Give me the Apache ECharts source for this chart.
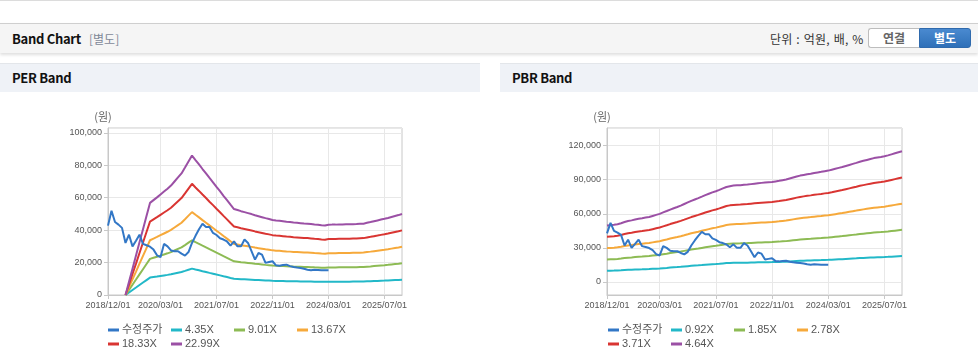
<!DOCTYPE html>
<html>
<head>
<meta charset="utf-8">
<script src="https://cdn.jsdelivr.net/npm/echarts@6/dist/echarts.min.js"></script>
<style>
  html, body { margin: 0; padding: 0; background: #fff; width: 978px; height: 361px; overflow: hidden; }
  body { position: relative; font-family: "Liberation Sans", "Noto Sans CJK KR", sans-serif; }
  .topline { position: absolute; left: 0; top: 0; width: 978px; height: 1px; background: #dcdcdc; }
  .hdr { position: absolute; left: 0; top: 23px; width: 978px; height: 29px; background: #f5f5f5;
         border-top: 1px solid #cfcfcf; box-shadow: 0 2px 3px rgba(0,0,0,0.13); }
  .hdr .title { position: absolute; left: 12px; top: 7px; font-size: 13px; font-weight: bold; color: #111;
                font-family: "Noto Sans CJK KR", "Liberation Sans", sans-serif; line-height: 16px; letter-spacing: -0.3px; }
  .hdr .sub { position: absolute; left: 89px; top: 7px; font-size: 12px; color: #7f8998; line-height: 16px;
              font-family: "Noto Sans CJK KR", sans-serif; }
  .hdr .unit { position: absolute; left: 770px; top: 7px; font-size: 12px; color: #333; line-height: 16px;
               font-family: "Noto Sans CJK KR", sans-serif; letter-spacing: 0.2px; word-spacing: 1px; }
  .btn { position: absolute; top: 4px; height: 18px; font-size: 12px; font-weight: bold; line-height: 18px;
         text-align: center; font-family: "Noto Sans CJK KR", sans-serif; }
  .btn1 { left: 868px; width: 50px; background: #fff; border: 1px solid #bdbdbd; border-right: none;
          border-radius: 3px 0 0 3px; color: #666; }
  .btn2 { left: 919px; width: 50px; background: linear-gradient(#4a8ad0, #2f70b8); border: 1px solid #2f6aad;
          border-radius: 0 3px 3px 0; color: #fff; }
  .ph { position: absolute; top: 63px; height: 28px; background: #eff2f7; border-top: 1px solid #e3e6ea; }
  .ph span { position: absolute; left: 12px; top: 6px; font-size: 13px; font-weight: bold; color: #111;
             font-family: "Noto Sans CJK KR", "Liberation Sans", sans-serif; line-height: 16px; letter-spacing: -0.3px; }
  #per { position: absolute; left: 0; top: 92px; width: 480px; height: 269px; }
  #pbr { position: absolute; left: 500px; top: 92px; width: 478px; height: 269px; }
</style>
</head>
<body>
<div class="topline"></div>
<div class="hdr">
  <div class="title">Band Chart</div>
  <div class="sub">[별도]</div>
  <div class="unit">단위 : 억원, 배, %</div>
  <div class="btn btn1">연결</div>
  <div class="btn btn2">별도</div>
</div>
<div class="ph" style="left:0;width:480px;"><span>PER Band</span></div>
<div class="ph" style="left:500px;width:478px;"><span>PBR Band</span></div>
<div id="per"></div>
<div id="pbr"></div>
<script>
// ---------- data ----------
// monthly categories 2018/12 .. 2025/12
const startYear = 2018, startMonth = 12, monthCount = 85;
const categories = [];
for (let i = 0; i < monthCount; i++) {
  const m = (startMonth - 1 + i) % 12 + 1;
  const y = startYear + Math.floor((startMonth - 1 + i) / 12);
  categories.push(y + '/' + String(m).padStart(2, '0') + '/01');
}
const xTickLabels = ['2018/12/01', '2020/03/01', '2021/07/01', '2022/11/01', '2024/03/01', '2025/07/01'];

// adjusted share price (수정주가), monthly 2018/12 .. 2024/03
const price = [42800, 52000, 45000, 43400, 41400, 32100, 37200, 30000, 33500, 37200,
  31500, 30700, 29800, 28000, 24500, 23300, 31500, 30000, 27500, 27000,
  27000, 25500, 24300, 26500, 32100, 36500, 40500, 44000, 42000, 42000,
  38300, 37000, 35000, 34200, 33000, 30500, 33100, 30000, 30000, 34200,
  32100, 27000, 21800, 25900, 24900, 19800, 20300, 20800, 18300, 18100,
  18500, 18700, 17800, 17300, 16900, 16700, 16200, 15600, 15200, 15600,
  15400, 15200, 15200, 15200];

// PER band: EPS (won) per month, multipliers
const perMultipliers = [4.35, 9.01, 13.67, 18.33, 22.99];
const perEps = [null, null, null, null, null, 0, 352, 705, 1057, 1414,
  1766, 2118, 2471, 2545, 2619, 2697, 2775, 2853, 2936, 3045,
  3154, 3262, 3419, 3580, 3741, 3619, 3502, 3380, 3262, 3140,
  3023, 2901, 2784, 2662, 2545, 2423, 2305, 2279, 2249, 2223,
  2197, 2171, 2140, 2114, 2088, 2062, 2040, 2014, 2001, 1992,
  1979, 1966, 1957, 1944, 1936, 1927, 1918, 1914, 1905, 1892,
  1883, 1870, 1862, 1883, 1888, 1888, 1892, 1892, 1896, 1896,
  1901, 1905, 1910, 1914, 1936, 1957, 1979, 2001, 2023, 2044,
  2066, 2092, 2118, 2144, 2175];

// PBR band: BPS (won) per month, multipliers
const pbrMultipliers = [0.92, 1.85, 2.78, 3.71, 4.64];
const pbrBps = [10711, 10776, 10841, 10948, 11142, 11358, 11552, 11681, 11832, 11983,
  12091, 12220, 12328, 12522, 12716, 12909, 13190, 13448, 13728, 13987,
  14224, 14483, 14784, 15086, 15388, 15647, 15905, 16185, 16466, 16724,
  16983, 17198, 17457, 17737, 18017, 18168, 18276, 18319, 18362, 18427,
  18470, 18556, 18642, 18728, 18793, 18858, 18922, 18966, 19073, 19181,
  19310, 19418, 19612, 19806, 20000, 20172, 20302, 20431, 20539, 20668,
  20776, 20884, 21013, 21121, 21293, 21466, 21638, 21810, 22004, 22198,
  22392, 22586, 22802, 22974, 23147, 23319, 23491, 23599, 23707, 23836,
  24009, 24203, 24397, 24591, 24784];

const priceName = '수정주가';
const bandColors = ['#22b8c8', '#8dbb54', '#f6a93b', '#d93532', '#9b50a5'];
const priceColor = '#3277c6';

// ---------- chart builder ----------
const fontStack = '"Liberation Sans", "Noto Sans CJK KR", sans-serif';
function fmt(v) { return Math.round(v).toLocaleString('en-US'); }
function showTick(idx, val) { return xTickLabels.indexOf(categories[idx]) >= 0; }

function buildOption(base, mults, yMin, yMax, gridLeft, gridRight) {
  const series = [{
    name: priceName, type: 'line', data: price, showSymbol: false, symbol: 'none',
    lineStyle: { width: 2, color: priceColor }, itemStyle: { color: priceColor }, z: 5
  }];
  mults.forEach((m, i) => {
    series.push({
      name: m.toFixed(2) + 'X', type: 'line',
      data: base.map(v => v == null ? null : Math.round(v * m)),
      showSymbol: false, symbol: 'none',
      lineStyle: { width: 2, color: bandColors[i] }, itemStyle: { color: bandColors[i] }
    });
  });
  return {
    animation: false,
    textStyle: { fontFamily: fontStack },
    grid: { left: gridLeft, right: gridRight, top: 36, bottom: 66, show: true, borderColor: '#c8c8c8', borderWidth: 1, containLabel: false },
    legend: {
      left: 108, top: 231, width: 262, itemGap: 0, itemWidth: 11, itemHeight: 3, icon: 'rect',
      orient: 'horizontal', padding: 0,
      formatter: name => '{t|' + name + '}',
      textStyle: {
        fontSize: 11, color: '#555', fontFamily: fontStack,
        rich: { t: { width: 49, height: 14, lineHeight: 14, fontSize: 11, color: '#555', fontFamily: fontStack, padding: [0, 0, 0, -2] } }
      },
      data: series.map(s => s.name)
    },
    xAxis: {
      type: 'category', data: categories, boundaryGap: false,
      axisLine: { onZero: false, lineStyle: { color: '#c8c8c8' } },
      axisTick: { show: true, interval: showTick, length: 4, lineStyle: { color: '#c8c8c8' } },
      splitLine: { show: true, interval: showTick, lineStyle: { color: '#e8e8e8' } },
      axisLabel: { interval: showTick, color: '#555', fontSize: 9, margin: 6, fontFamily: fontStack }
    },
    yAxis: {
      type: 'value', min: yMin, max: yMax, splitNumber: 5,
      name: '(원)', nameLocation: 'end', nameGap: 6,
      nameTextStyle: { color: '#666', fontSize: 11, padding: [0, 10, 0, 0], fontFamily: '"Noto Sans CJK KR", sans-serif' },
      axisLine: { show: true, lineStyle: { color: '#c8c8c8' } },
      axisTick: { show: true, length: 4, lineStyle: { color: '#c8c8c8' } },
      splitLine: { show: true, lineStyle: { color: '#e8e8e8' } },
      axisLabel: { color: '#555', fontSize: 9, margin: 6, showMinLabel: yMin === 0, showMaxLabel: false, formatter: fmt, fontFamily: fontStack }
    },
    series: series
  };
}

const perChart = echarts.init(document.getElementById('per'));
perChart.setOption(buildOption(perEps, perMultipliers, 0, 103000, 108, 78));
const pbrChart = echarts.init(document.getElementById('pbr'));
pbrChart.setOption(buildOption(pbrBps, pbrMultipliers, -11500, 135500, 107, 76));
</script>
</body>
</html>
